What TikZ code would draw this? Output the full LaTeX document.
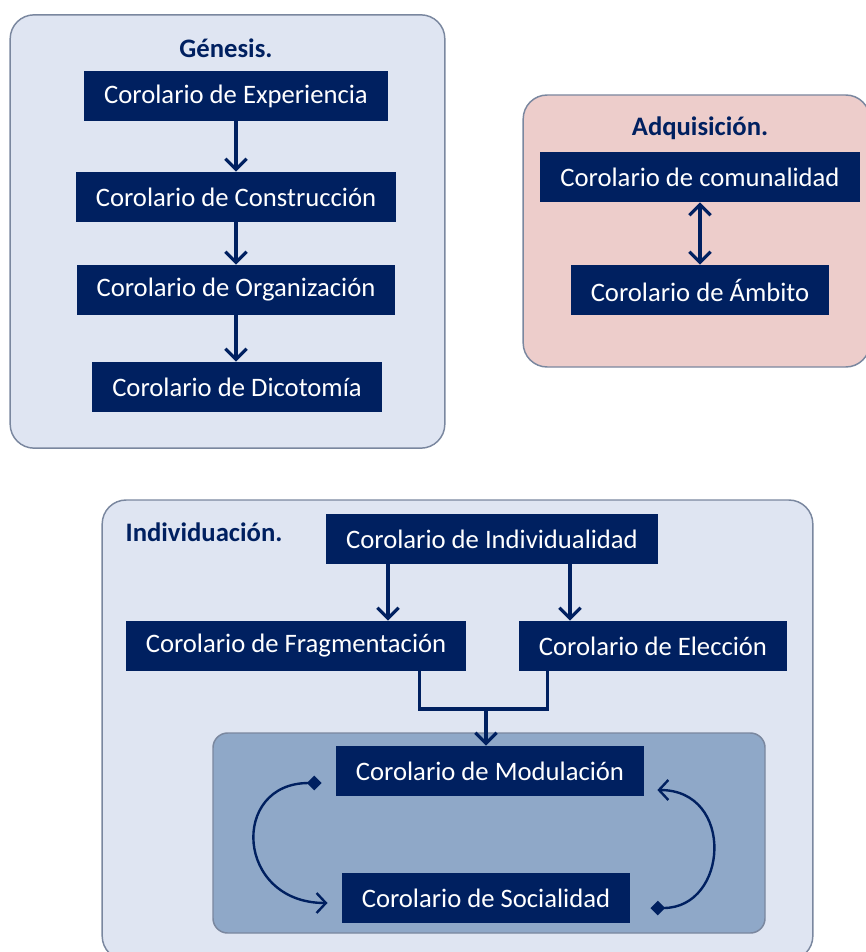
\documentclass[tikz,border=0pt]{standalone}
\usepackage{fontspec}
\setmainfont{Carlito}
\usetikzlibrary{arrows.meta, positioning, calc}
\definecolor{navy}{HTML}{002060}
\definecolor{paleblue}{HTML}{DFE5F2}
\definecolor{palepink}{HTML}{EDCDCB}
\definecolor{midblue}{HTML}{8FA8C8}
\definecolor{rimgray}{HTML}{7A879F}
\tikzstyle{cor} = [fill=navy, text=white, inner xsep=15pt, minimum height=37.5pt, font=\fontsize{20}{24}\selectfont]
\tikzstyle{frame} = [draw=rimgray, line width=1.1pt, rounded corners=18pt, fill=paleblue]
\tikzstyle{title} = [text=navy, font=\fontsize{20}{24}\selectfont\bfseries]
\tikzstyle{arrow} = [navy, line width=2.5pt, -{Straight Barb[length=8pt,width=16pt,line width=2.5pt]}]
\tikzstyle{twoway} = [navy, line width=2.5pt, {Straight Barb[length=8pt,width=16pt,line width=2.5pt]}-{Straight Barb[length=8pt,width=16pt,line width=2.5pt]}]
\tikzstyle{link} = [navy, line width=2.5pt]
\tikzstyle{cycle} = [navy, line width=1.8pt, {Diamond[length=11pt,width=11pt]}-{Straight Barb[length=7pt,width=15pt,line width=1.8pt]}]

\begin{document}
\begin{tikzpicture}[x=0.75pt, y=-0.75pt]
    \useasboundingbox (0,0) rectangle (866,952);

    % Frames
    \node (genesisbox) [frame, minimum width=326pt, minimum height=325pt] at (227.5,231.5) {};
    \node (adqbox) [frame, fill=palepink, minimum width=260pt, minimum height=204pt] at (696.5,231) {};
    \node (indbox) [frame, minimum width=533pt, minimum height=345pt] at (457.5,730) {};
    \node (modbox) [draw=rimgray, line width=1.1pt, rounded corners=11pt, fill=midblue, minimum width=414pt, minimum height=150pt] at (489,833) {};

    % Titles
    \node (genesis) [title] at (226,48) {Génesis.};
    \node (adq) [title] at (700,128) {Adquisición.};
    \node (ind) [title] at (204,532) {Individuación.};

    % Genesis
    \node (exp) [cor] at (236,96) {Corolario de Experiencia};
    \node (cons) [cor] at (236,197) {Corolario de Construcción};
    \node (org) [cor] at (236,290) {Corolario de Organización};
    \node (dic) [cor] at (237,387) {Corolario de Dicotomía};

    % Adquisicion
    \node (com) [cor] at (700,177) {Corolario de comunalidad};
    \node (amb) [cor] at (700,290) {Corolario de Ámbito};

    % Individuacion
    \node (indiv) [cor] at (492,539) {Corolario de Individualidad};
    \node (frag) [cor] at (296,646) {Corolario de Fragmentación};
    \node (elec) [cor] at (653,646) {Corolario de Elección};
    \node (mod) [cor] at (490,771) {Corolario de Modulación};
    \node (soc) [cor] at (486,898) {Corolario de Socialidad};
    \coordinate (join) at (486,709);

    % Arrows
    \draw [arrow] (exp) -- (cons);
    \draw [arrow] (cons) -- (org);
    \draw [arrow] (org) -- (exp |- dic.north);
    \draw [twoway] (com) -- (amb);
    \draw [arrow] ($(indiv.south)+(-104,0)$) coordinate (a1) -- (a1 |- frag.north);
    \draw [arrow] ($(indiv.south)+(78,0)$) coordinate (a2) -- (a2 |- elec.north);
    \draw [link] ($(frag.south east)+(-47,0)$) |- (join);
    \draw [link] ($(elec.south west)+(29,0)$) |- (join);
    \draw [arrow] (join) -- (join |- mod.north);
    \draw [cycle] ($(mod.west)+(-14,12)$) .. controls +(-92,0) and +(-92,0) .. ($(soc.west)+(-14,5)$);
    \draw [cycle] ($(soc.east)+(20,10)$) .. controls +(78,0) and +(78,0) .. ($(mod.east)+(13,19)$);
\end{tikzpicture}
\end{document}
